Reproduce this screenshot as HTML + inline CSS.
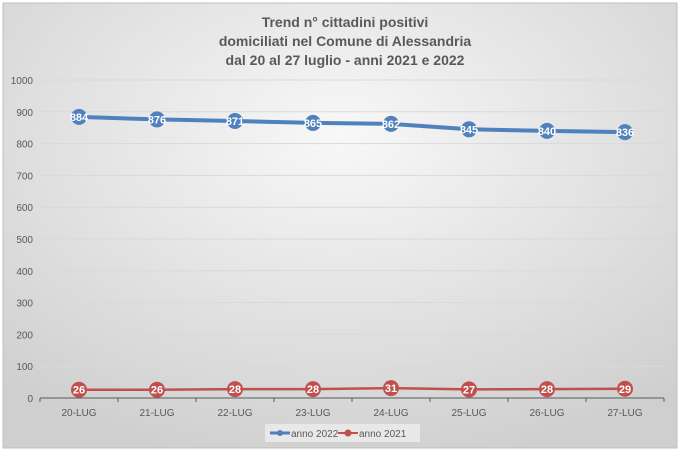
<!DOCTYPE html>
<html><head><meta charset="utf-8"><style>
body{margin:0;background:#fff}
#c{position:absolute;left:0;top:0;width:680px;height:453px;font-family:"Liberation Sans",sans-serif}
</style></head><body>
<div id="c">
<svg id="s" width="680" height="453" xmlns="http://www.w3.org/2000/svg">
<defs><radialGradient id="bg" cx="50%" cy="30%" r="75%"><stop offset="0" stop-color="#f8f8f8"/><stop offset="1" stop-color="#cfcfcf"/></radialGradient></defs>
<rect x="3" y="3" width="674" height="445" fill="url(#bg)" stroke="#bfbfbf"/>
<g font-weight="bold" font-size="14" fill="#595959" text-anchor="middle">
<text x="345" y="27">Trend n° cittadini positivi</text>
<text x="345" y="46">domiciliati nel Comune di Alessandria</text>
<text x="345" y="65">dal 20 al 27 luglio - anni 2021 e 2022</text>
</g>
<g id="grid"></g><g id="axes"></g><g id="series"></g>
<g>
<rect x="265" y="424" width="155" height="18" fill="#e8e8e8"/>
<line x1="270" y1="433" x2="290" y2="433" stroke="#4f81bd" stroke-width="3"/>
<circle cx="280" cy="433" r="3" fill="#4f81bd"/>
<text x="291" y="437" font-size="10" fill="#595959">anno 2022</text>
<line x1="338" y1="433" x2="358" y2="433" stroke="#c0504d" stroke-width="2"/>
<circle cx="348" cy="433" r="3.5" fill="#c0504d"/>
<text x="359" y="437" font-size="10" fill="#595959">anno 2021</text>
</g>
</svg></div>
<script>
const categories=["20-LUG","21-LUG","22-LUG","23-LUG","24-LUG","25-LUG","26-LUG","27-LUG"];
const values2022=[884,876,871,865,862,845,840,836];
const values2021=[26,26,28,28,31,27,28,29];
const yTicks=[0,100,200,300,400,500,600,700,800,900,1000];
const NS="http://www.w3.org/2000/svg";
const x0=40,x1=664,yTop=80,yBot=398;
const bw=(x1-x0)/categories.length;
function xs(i){return x0+bw*(i+0.5);}
function ys(v){return yBot-(v/1000)*(yBot-yTop);}
function mk(t,a,p){const e=document.createElementNS(NS,t);for(const k in a)e.setAttribute(k,a[k]);p.appendChild(e);return e;}
const grid=document.getElementById('grid'),axes=document.getElementById('axes'),ser=document.getElementById('series');
yTicks.forEach(v=>{
 if(v>0){const g=mk('line',{x1:x0,x2:x1,y1:ys(v),y2:ys(v),stroke:'#d9d9d9'},grid);
 
 }
 const t=mk('text',{x:33,y:ys(v)+4,'font-size':10,fill:'#595959','text-anchor':'end'},axes);t.textContent=v;
 
 
});
const ax=mk('line',{x1:x0,x2:x1,y1:yBot,y2:yBot,stroke:'#595959'},axes);


for(let i=0;i<=categories.length;i++){mk('line',{x1:x0+bw*i,x2:x0+bw*i,y1:yBot,y2:yBot+4,stroke:'#595959'},axes);}
categories.forEach((c,i)=>{const t=mk('text',{x:xs(i),y:yBot+18,'font-size':10,fill:'#595959','text-anchor':'middle'},axes);t.textContent=c;
 
 });
function series(vals,color,w,name){
 const p=mk('polyline',{points:vals.map((v,i)=>xs(i)+','+ys(v)).join(' '),fill:'none',stroke:color,'stroke-width':w},ser);
 
 
 vals.forEach((v,i)=>{
  const c=mk('circle',{cx:xs(i),cy:ys(v),r:8,fill:color},ser);
  
  
  const t=mk('text',{x:xs(i),y:ys(v)+4,'font-size':11,'font-weight':'bold',fill:'#fff','text-anchor':'middle'},ser);t.textContent=v;
  
  
 });
}
series(values2022,'#4f81bd',4,'series-2022');
series(values2021,'#c0504d',2.5,'series-2021');
</script>
</body></html>
